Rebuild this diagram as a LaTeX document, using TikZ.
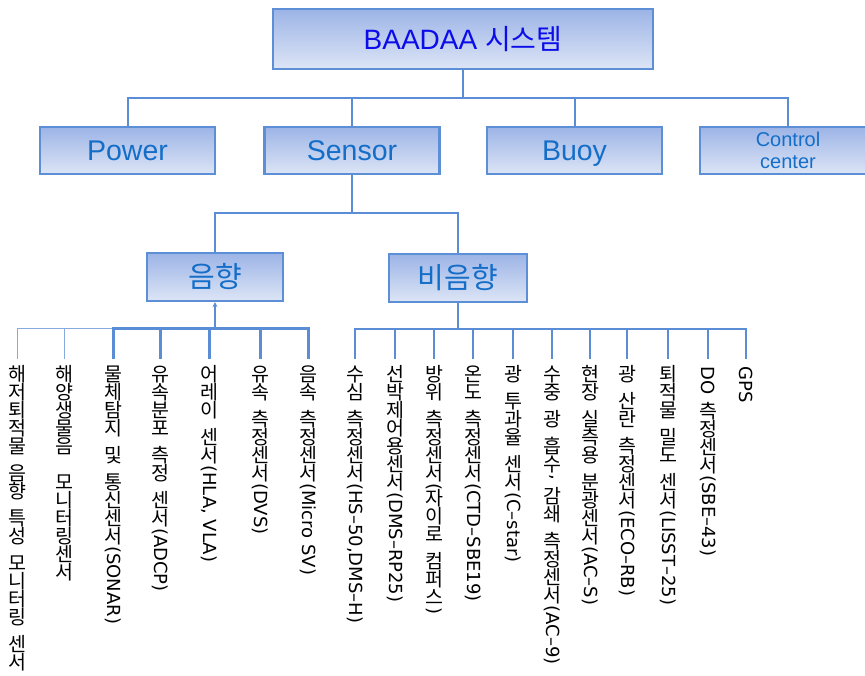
\documentclass[tikz,border=0pt]{standalone}
\usepackage{fontspec}
\setmainfont{Liberation Sans}
\newfontfamily\kofont{Noto Sans CJK KR}
\newfontfamily\lafont{DejaVu Sans}
\usepackage{graphicx}
\usetikzlibrary{arrows.meta}

\definecolor{boxline}{RGB}{93,143,214}
\definecolor{boxtop}{RGB}{156,180,230}
\definecolor{boxbot}{RGB}{221,229,246}
\definecolor{boxtext}{RGB}{20,110,200}
\definecolor{systext}{RGB}{12,12,235}
\definecolor{wire}{RGB}{91,141,214}
\definecolor{wirelight}{RGB}{135,170,222}

% vertical labels: korean upright, latin turned
\def\vgapmark{|}
\makeatletter
\newcommand\vk[1]{\@tfor\vch:=#1\do{%
  \ifx\vch\vgapmark\kern9pt\relax\else
  \setbox0\hbox to 18pt{\hss\kofont\fontsize{19.5}{18}\selectfont\vch\hss}\ht0=15pt\dp0=3pt\box0\fi}}
\makeatother
\newcommand\vl[1]{\hbox to 18pt{\hss\rotatebox{-90}{\lafont #1}\hss}}
\newcommand\vtext[1]{\vbox{\baselineskip=0pt\lineskip=0pt\lineskiplimit=0pt #1}}

\begin{document}
\begin{tikzpicture}[x=1pt,y=-1pt,
  box/.style={draw=boxline, line width=2.2pt, top color=boxtop, bottom color=boxbot, text=boxtext, inner sep=0pt},
  unit/.style={box, minimum width=175pt, minimum height=47pt, text height=21pt, text depth=0pt, font=\fontsize{28.5}{30}\selectfont},
  leaf/.style={anchor=north, inner xsep=0pt, inner ysep=7pt, font=\fontsize{18}{18}\selectfont},
  link/.style={draw=wire, line width=2pt},
  thinlink/.style={draw=wirelight, line width=1pt},
  thicklink/.style={draw=wire, line width=3pt},
  midlink/.style={draw=wire, line width=2.4pt}]

\useasboundingbox (0,0) rectangle (865,676);
\clip (0,0) rectangle (865,676);

\node[box, minimum width=380pt, minimum height=60pt] (sys) at (463,39) {\fontsize{28}{30}\selectfont\color{systext}BAADAA {\kofont 시스템}};

\node[unit] (pow) at (127.5,150.5) {Power};
\node[unit] (sen) at (352,150.5) {Sensor};
\node[unit] (buoy) at (574.5,150.5) {Buoy};
\node[box, minimum width=176pt, minimum height=47pt, align=center, font=\fontsize{20}{22}\selectfont] (ctrl) at (788,150.5) {Control\\center};

\node[box, minimum width=136pt, minimum height=48pt] (ac) at (215,277) {\fontsize{29}{30}\selectfont\kofont 음향};
\node[box, minimum width=138pt, minimum height=48pt] (nac) at (458,278) {\fontsize{29}{30}\selectfont\kofont 비음향};

\coordinate (bus1) at (0,98);
\coordinate (bus2) at (0,213);
\coordinate (bus3) at (0,329);

% acoustic sensors
\node[leaf] (a1) at (17,359) {\vtext{\vk{해저퇴적물|음향|특성|모니터링|센서}}};
\node[leaf] (a2) at (64,359) {\vtext{\vk{해양생물음||모니터링센서}}};
\node[leaf] (a3) at (113,359) {\vtext{\vk{물체탐지|및|통신센서}\vl{(SONAR)}}};
\node[leaf] (a4) at (160,359) {\vtext{\vk{유속분포|측정|센서}\vl{(ADCP)}}};
\node[leaf] (a5) at (209,359) {\vtext{\vk{어레이|센서}\vl{(HLA, VLA)}}};
\node[leaf] (a6) at (260,359) {\vtext{\vk{유속|측정센서}\vl{(DVS)}}};
\node[leaf] (a7) at (308,359) {\vtext{\vk{음속|측정센서}\vl{(Micro SV)}}};

% non-acoustic sensors
\node[leaf] (n1) at (355,359) {\vtext{\vk{수심|측정센서}\vl{(HS–50,DMS–H)}}};
\node[leaf] (n2) at (395,359) {\vtext{\vk{선박제어용센서}\vl{(DMS–RP25)}}};
\node[leaf] (n3) at (434,359) {\vtext{\vk{방위|측정센서}\vl{(}\vk{자이로|컴퍼스}\vl{)}}};
\node[leaf] (n4) at (473,359) {\vtext{\vk{온도|측정센서}\vl{(CTD–SBE19)}}};
\node[leaf] (n5) at (513,359) {\vtext{\vk{광|투과율|센서}\vl{(C–star)}}};
\node[leaf] (n6) at (552,359) {\vtext{\vk{수중|광|흡수}\vl{,}\vk{|감쇄|측정센서}\vl{(AC–9)}}};
\node[leaf] (n7) at (590,359) {\vtext{\vk{현장|실측용|분광센서}\vl{(AC–S)}}};
\node[leaf] (n8) at (627,359) {\vtext{\vk{광|산란|측정센서}\vl{(ECO–RB)}}};
\node[leaf] (n9) at (668,359) {\vtext{\vk{퇴적물|밀도|센서}\vl{(LISST–25)}}};
\node[leaf] (n10) at (708,359) {\vtext{\vl{DO}\vk{|측정센서}\vl{(SBE–43)}}};
\node[leaf] (n11) at (746,359) {\vtext{\vl{GPS}}};

% top level
\draw[link] (sys.south) -- (sys.south |- bus1);
\draw[link] (pow.north) |- (bus1 -| ctrl.north) -- (ctrl.north);
\draw[link] (sen.north) -- (sen.north |- bus1);
\draw[link] (buoy.north) -- (buoy.north |- bus1);

% sensor split
\draw[link] (sen.south) -- (sen.south |- bus2);
\draw[link] (ac.north) |- (bus2 -| nac.north) -- (nac.north);

% acoustic bus
\draw[thinlink] (a1.north) |- (bus3 -| a3.north);
\draw[thinlink] (a2.north) -- (a2.north |- bus3);
\draw[thicklink] (a3.north) |- (bus3 -| a7.north) -- (a7.north);
\draw[thicklink] (a4.north) -- (a4.north |- bus3);
\draw[thicklink] (a5.north) -- (a5.north |- bus3);
\draw[thicklink] (a6.north) -- (a6.north |- bus3);
\draw[link, -{Stealth[length=5pt,width=5pt]}] (ac.south |- bus3) -- (ac.south);

% non-acoustic bus
\draw[midlink] (nac.south) -- (nac.south |- bus3);
\draw[midlink] (n1.north) |- (bus3 -| n11.north) -- (n11.north);
\draw[midlink] (n2.north) -- (n2.north |- bus3);
\draw[midlink] (n3.north) -- (n3.north |- bus3);
\draw[midlink] (n4.north) -- (n4.north |- bus3);
\draw[midlink] (n5.north) -- (n5.north |- bus3);
\draw[midlink] (n6.north) -- (n6.north |- bus3);
\draw[midlink] (n7.north) -- (n7.north |- bus3);
\draw[midlink] (n8.north) -- (n8.north |- bus3);
\draw[midlink] (n9.north) -- (n9.north |- bus3);
\draw[midlink] (n10.north) -- (n10.north |- bus3);
\end{tikzpicture}
\end{document}
